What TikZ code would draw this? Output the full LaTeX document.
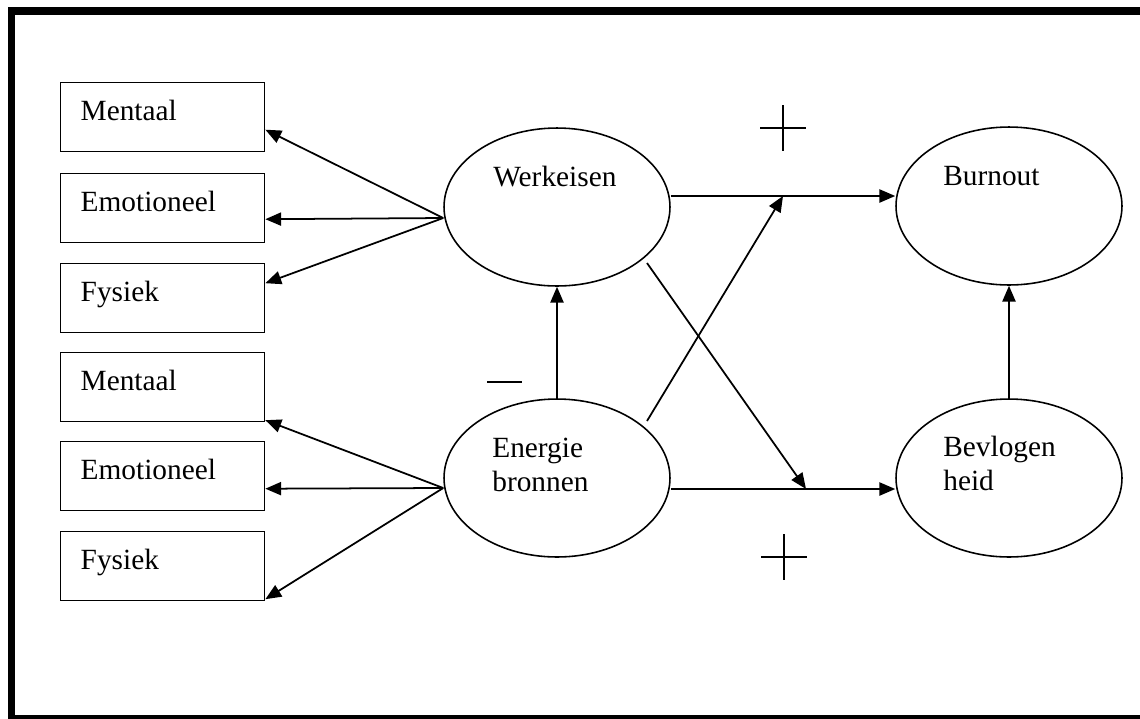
\documentclass[tikz,border=0pt]{standalone}
\usepackage{fontspec}
\setmainfont{Liberation Serif}
\usetikzlibrary{shapes.geometric,arrows.meta,calc}
\tikzset{
	dimbox/.style={draw,line width=0.8pt,anchor=north west,inner xsep=0.4cm,inner ysep=0pt,text width=3.28cm,align=left,text height=0.76cm,text depth=0.62cm},
	factor/.style={draw,ellipse,line width=0.9pt,minimum width=4.52cm,minimum height=3.16cm,inner sep=0pt},
	lbl/.style={inner sep=0pt,anchor=base west,align=left},
	arr/.style={line width=1pt,-{Triangle[length=9pt,width=7.5pt]}},
	sign/.style={line width=0.8pt}
}
\begin{document}
\begin{tikzpicture}[x=0.02cm,y=-0.02cm,font=\fontsize{16.7}{19.3}\selectfont]
		\useasboundingbox (0,0) rectangle (1140,718);
		\clip (0,0) rectangle (1140,718);
		\draw[line width=4.3pt] (1160,719) -- (11.5,719) -- (11.5,11) -- (1160,11);
		% dimensies
		\node[dimbox] (wm) at (60,82) {Mentaal};
		\node[dimbox] (we) at (60,173) {Emotioneel};
		\node[dimbox] (wf) at (60,263) {Fysiek};
		\node[dimbox] (em) at (60,352) {Mentaal};
		\node[dimbox] (ee) at (60,441) {Emotioneel};
		\node[dimbox] (ef) at (60,531) {Fysiek};
		% factoren
		\node[factor] (wk) at (557,207) {};
		\node[factor] (eb) at (557,478) {};
		\node[factor] (bo) at (1009,206) {};
		\node[factor] (bh) at (1009,478) {};
		\node[lbl] (wkt) at (493,186) {Werkeisen};
		\node[lbl] (ebt) at (492,491) {Energie\\bronnen};
		\node[lbl] (bot) at (943,185) {Burnout};
		\node[lbl] (bht) at (943,490) {Bevlogen\\heid};
		\coordinate (wkl) at ($(wk.west)+(0,11)$);
		\coordinate (ebl) at ($(eb.west)+(0,10)$);
		\coordinate (pu) at (783,196);
		\coordinate (pl) at (806,489);
		\coordinate (wks) at (647,263);
		\coordinate (ebs) at (647,421);
		\draw[arr] (wkl) -- ($(wm.east)+(0,12.5)$);
		\draw[arr] (wkl) -- ($(we.east)+(0,11)$);
		\draw[arr] (wkl) -- ($(wf.east)+(0,-15)$);
		\draw[arr] (ebl) -- ($(em.east)+(0,33)$);
		\draw[arr] (ebl) -- ($(ee.east)+(0,12.5)$);
		\draw[arr] (ebl) -- ($(ef.east)+(0,33)$);
		\draw[arr] (eb.north) -- (wk.south);
		\draw[arr] (bh.north) -- (bo.south);
		\draw[arr] (wk.east |- pu) -- (bo.west |- pu);
		\draw[arr] (eb.east |- pl) -- (bh.west |- pl);
		\draw[arr] (ebs) -- (pu);
		\draw[arr] (wks) -- (pl);
		% tekens
		\draw[sign] (760,128) -- (806,128) (783,105) -- (783,151);
		\draw[sign] (761,557) -- (807,557) (784,534) -- (784,580);
		\draw[sign] (487,382) -- (522,382);
\end{tikzpicture}
\end{document}
